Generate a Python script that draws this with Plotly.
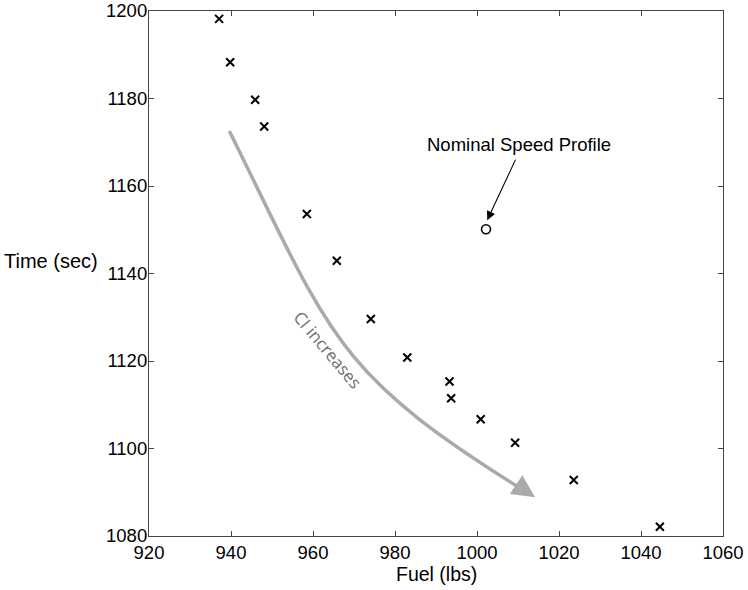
import plotly.graph_objects as go

fuel = [937.1, 939.8, 945.9, 948.1, 958.5, 965.8, 974.1, 983.0, 993.3, 993.7, 1000.9, 1009.3, 1023.6, 1044.6]
time = [1198.2, 1188.3, 1179.7, 1173.6, 1153.6, 1142.9, 1129.6, 1120.8, 1115.3, 1111.5, 1106.7, 1101.3, 1092.8, 1082.1]
nominal_fuel = [1002.2]
nominal_time = [1150.1]
x_ticks = [920, 940, 960, 980, 1000, 1020, 1040, 1060]
y_ticks = [1080, 1100, 1120, 1140, 1160, 1180, 1200]

FONT = "Liberation Sans, Arial, sans-serif"
FS = 18.5

fig = go.Figure()
fig.add_trace(go.Scatter(
    x=fuel, y=time, mode="markers",
    marker=dict(symbol="x-thin", size=8, line=dict(color="black", width=2)),
    showlegend=False))
fig.add_trace(go.Scatter(
    x=nominal_fuel, y=nominal_time, mode="markers",
    marker=dict(symbol="circle-open", size=9, color="black", line=dict(color="black", width=1.6)),
    showlegend=False))

# gray curved arrow ("CI increases")
fig.add_shape(type="path", xref="x", yref="y",
              path="M 939.59,1172.57 C 964.49,1125.46 964.98,1117.62 1010.49,1090.97",
              line=dict(color="#aaaaaa", width=3.5), layer="below")
fig.add_annotation(x=1014.15, y=1088.85, xref="x", yref="y", ax=-15, ay=-10,
                   axref="pixel", ayref="pixel", text="", showarrow=True,
                   arrowhead=2, arrowsize=1.3, arrowwidth=3.5, arrowcolor="#aaaaaa")
fig.add_annotation(x=963.6, y=1122.7, xref="x", yref="y", text="CI increases",
                   showarrow=False, textangle=50,
                   font=dict(family="Open Sans, sans-serif", size=17, color="#6e6e6e"))

# nominal label & arrow
fig.add_annotation(x=1002.5, y=1152.2, xref="x", yref="y", ax=29, ay=-62,
                   text="", showarrow=True, arrowhead=2, arrowsize=1.6,
                   arrowwidth=1.1, arrowcolor="black")
fig.add_annotation(x=1010.2, y=1169.4, xref="x", yref="y", text="Nominal Speed Profile",
                   showarrow=False, font=dict(family=FONT, size=FS, color="black"))

# axis titles
fig.add_annotation(x=-0.085, y=1142.9, xref="paper", yref="y", text="Time (sec)",
                   xanchor="right", showarrow=False,
                   font=dict(family=FONT, size=20, color="black"))
fig.add_annotation(x=0.5, y=-0.072, xref="paper", yref="paper", text="Fuel (lbs)",
                   xanchor="center", yanchor="middle", showarrow=False,
                   font=dict(family=FONT, size=19.5, color="black"))

axis_common = dict(showgrid=False, zeroline=False, showline=True, linecolor="#444444",
                   linewidth=1.2, mirror="ticks", ticks="inside", ticklen=5,
                   tickcolor="#444444", automargin=False,
                   tickfont=dict(family=FONT, size=FS, color="black"))

fig.update_layout(
    width=748, height=590,
    margin=dict(l=149, r=25, t=11, b=54),
    plot_bgcolor="white", paper_bgcolor="white",
    xaxis=dict(range=[920, 1060], tickvals=x_ticks, **axis_common),
    yaxis=dict(range=[1080, 1200], tickvals=y_ticks, ticklabelstandoff=-3, **axis_common),
)

fig.write_html("out.html", config={"displayModeBar": False},
               post_script="document.body.style.margin='0px';")
